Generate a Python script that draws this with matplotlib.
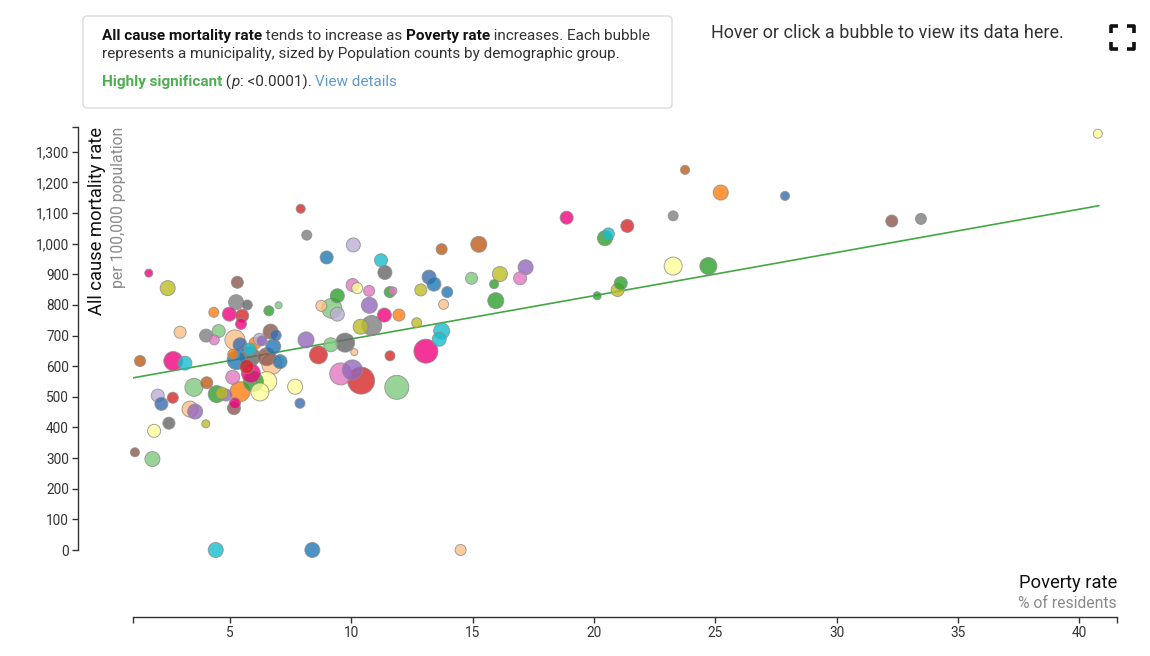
import numpy as np
import matplotlib.pyplot as plt
from matplotlib.patches import FancyBboxPatch
from matplotlib.lines import Line2D
from matplotlib.transforms import IdentityTransform
from matplotlib.ticker import FuncFormatter

plt.rcParams['font.family'] = ['Roboto', 'DejaVu Sans']

W, H, DPI = 1150, 656, 100

# 各市镇：贫困率 (%)、全因死亡率 (每10万人)、人口、颜色组
poverty = [1.65, 2.43, 1.29, 2.66, 3.14, 2.94, 2.02, 2.17, 2.64, 3.51,
           4.04, 4.45, 4.66, 4.83, 3.35, 3.56, 2.48, 1.87, 4.00, 1.08,
           1.80, 4.41, 8.39, 14.50, 7.88, 5.16, 5.20, 5.30, 5.25, 5.71,
           4.33, 4.97, 5.50, 5.45, 6.60, 7.00, 4.01, 4.35, 4.53, 5.20,
           5.41, 6.03, 6.21, 6.32, 6.67, 6.88, 6.78, 5.82, 5.27, 5.11,
           5.82, 6.51, 6.72, 7.06, 5.11, 5.86, 5.69, 6.51, 6.23, 5.96,
           5.41, 7.68, 7.91, 8.16, 10.08, 8.98, 11.22, 11.38, 13.72, 15.25,
           13.20, 13.40, 13.95, 14.95, 13.80, 12.86, 10.05, 10.24, 10.73, 11.58,
           11.71, 9.42, 8.76, 9.19, 9.42, 10.74, 11.36, 11.96, 12.69, 10.38,
           10.84, 13.72, 13.62, 8.13, 9.15, 9.74, 10.12, 8.64, 11.59, 13.07,
           9.56, 10.04, 10.40, 11.87, 18.87, 20.59, 20.45, 21.37, 23.26, 25.22,
           16.12, 17.18, 16.95, 15.88, 15.95, 20.13, 21.10, 20.97, 23.26, 24.71,
           23.75, 27.87, 32.27, 33.47, 40.76]
mortality = [904, 855, 617, 617, 610, 711, 504, 477, 497, 531,
             546, 509, 512, 506, 460, 452, 414, 389, 412, 319,
             297, 0, 0, 0, 479, 463, 479, 874, 809, 800,
             776, 770, 765, 738, 781, 799, 700, 686, 715, 686,
             670, 675, 688, 683, 713, 701, 664, 656, 620, 639,
             631, 631, 606, 615, 564, 577, 599, 550, 516, 550,
             517, 533, 1114, 1028, 996, 955, 946, 906, 982, 998,
             891, 868, 842, 887, 802, 849, 865, 855, 846, 842,
             846, 830, 797, 789, 770, 799, 767, 767, 742, 729,
             733, 715, 688, 686, 670, 677, 646, 637, 634, 649,
             575, 588, 553, 531, 1085, 1032, 1018, 1058, 1091, 1167,
             901, 923, 887, 868, 814, 830, 871, 849, 927, 927,
             1241, 1156, 1074, 1081, 1359]
population = [4800, 16900, 9100, 27100, 14700, 10800, 12700, 12700, 9100, 24300,
              10800, 21700, 10800, 10800, 19200, 16900, 10800, 12700, 4800, 6100,
              16900, 16900, 16900, 9100, 7500, 12700, 9100, 10800, 16900, 7500,
              7500, 14700, 12700, 9100, 7500, 3700, 12700, 7500, 12700, 30000,
              14700, 10800, 10800, 7500, 16900, 9100, 16900, 10800, 27100, 7500,
              30000, 24300, 30000, 14700, 14700, 27100, 14700, 30000, 24300, 30000,
              30000, 16900, 6100, 7500, 14700, 12700, 12700, 14700, 9100, 19200,
              14700, 14700, 9100, 10800, 7500, 10800, 12700, 9100, 9100, 9100,
              4800, 14700, 9100, 30000, 14700, 19200, 14700, 10800, 7500, 16900,
              30000, 19200, 14700, 19200, 14700, 27100, 3700, 24300, 7500, 43200,
              36300, 30000, 54700, 43200, 12700, 10800, 16900, 12700, 7500, 16900,
              16900, 16900, 12700, 6100, 19200, 4800, 12700, 12700, 24300, 21700,
              6100, 6100, 10800, 9100, 6100]
group = ['hotpink', 'olive', 'rust', 'hotpink', 'cyan', 'peach', 'lpurple', 'blue2', 'red', 'lgreen',
         'rust', 'green', 'olive', 'purple', 'peach', 'purple', 'gray2', 'lyellow', 'olive', 'brown',
         'lgreen', 'cyan', 'blue1', 'peach', 'blue2', 'brown', 'hotpink', 'brown', 'gray1', 'gray2',
         'orange', 'hotpink', 'red', 'hotpink', 'green', 'lgreen', 'gray1', 'pink', 'lgreen', 'peach',
         'blue2', 'orange', 'lpurple', 'purple', 'brown', 'blue2', 'blue1', 'cyan', 'blue1', 'orange',
         'gray2', 'brown', 'peach', 'blue1', 'pink', 'hotpink', 'red', 'lyellow', 'lyellow', 'green',
         'orange', 'lyellow', 'red', 'gray1', 'lpurple', 'blue1', 'cyan', 'gray2', 'rust', 'rust',
         'blue2', 'blue1', 'blue1', 'lgreen', 'peach', 'olive', 'pink', 'lyellow', 'pink', 'green',
         'pink', 'green', 'peach', 'lgreen', 'lpurple', 'purple', 'hotpink', 'orange', 'olive', 'olive',
         'gray1', 'cyan', 'cyan', 'purple', 'lgreen', 'gray2', 'peach', 'red', 'red', 'hotpink',
         'pink', 'purple', 'red', 'lgreen', 'hotpink', 'cyan', 'green', 'red', 'gray1', 'orange',
         'olive', 'purple', 'pink', 'green', 'green', 'green', 'green', 'olive', 'lyellow', 'green',
         'rust', 'blue2', 'brown', 'gray1', 'lyellow']

# 趋势线端点
trend_x = [1.0, 40.8]
trend_y = [562, 1124]

palette = {
    'blue1': '#1f77b4', 'blue2': '#386cb0', 'orange': '#ff7f0e', 'green': '#2ca02c',
    'red': '#d62728', 'purple': '#9467bd', 'brown': '#8c564b', 'pink': '#e377c2',
    'gray1': '#7f7f7f', 'gray2': '#666666', 'olive': '#bcbd22', 'cyan': '#17becf',
    'lgreen': '#7fc97f', 'lpurple': '#beaed4', 'peach': '#fdc086', 'lyellow': '#ffff99',
    'hotpink': '#f0027f', 'rust': '#bf5b17',
}

fig = plt.figure(figsize=(W / DPI, H / DPI), dpi=DPI)
ax = fig.add_axes([133 / W, (H - 550) / H, (1117 - 133) / W, (550 - 127) / H])

x = np.array(poverty)
y = np.array(mortality)
pop = np.array(population)
radius = np.sqrt(pop / 300.0)              # 像素半径
sizes = (2 * radius * 72 / DPI) ** 2       # 点^2
order = np.argsort(-pop)                   # 大的先画

ax.scatter(x[order], y[order], s=sizes[order],
           c=[palette[group[i]] for i in order], alpha=0.8,
           edgecolors='#8c8c8c', linewidths=0.7, clip_on=False, zorder=3)

ax.plot(trend_x, trend_y, color='#43a843', lw=1.2, zorder=2)

ax.set_xlim(1.0, 41.55)
ax.set_ylim(0, 1381)

for s in ['top', 'right']:
    ax.spines[s].set_visible(False)
ax.spines['left'].set_position(('outward', 55 * 0.72))
ax.spines['bottom'].set_position(('outward', 67 * 0.72))
for s in ['left', 'bottom']:
    ax.spines[s].set_color('#333333')
    ax.spines[s].set_linewidth(1.0)

ax.set_yticks(np.arange(0, 1301, 100))
ax.set_xticks(np.arange(5, 41, 5))
ax.yaxis.set_major_formatter(FuncFormatter(lambda v, p: f'{int(v):,}'))
ax.set_yticks([1381], minor=True)
ax.set_xticks([1.0, 41.55], minor=True)
ax.tick_params(which='both', direction='out', length=4.3, width=1.0,
               color='#333333', labelsize=9.8, labelcolor='#333333', pad=2.2)
ax.tick_params(which='minor', labelleft=False, labelbottom=False)

# 坐标轴标题
fig.text(97 / W, 1 - 127 / H, 'All cause mortality rate', rotation=90,
         ha='center', va='top', fontsize=13.2, color='#111111')
fig.text(119 / W, 1 - 127 / H, 'per 100,000 population', rotation=90,
         ha='center', va='top', fontsize=11.3, color='#8a8a8a')
fig.text(1117 / W, 1 - 583 / H, 'Poverty rate', ha='right', va='center',
         fontsize=13.2, color='#111111')
fig.text(1117 / W, 1 - 603 / H, '% of residents', ha='right', va='center',
         fontsize=11.3, color='#8a8a8a')

# 说明框
box = FancyBboxPatch((83, H - 108), 589, 92,
                     boxstyle='round,pad=0,rounding_size=4',
                     transform=IdentityTransform(), facecolor='white',
                     edgecolor='#dcdcdc', linewidth=1.0)
fig.add_artist(box)

renderer = fig.canvas.get_renderer()


def text_width(s, **kw):
    a = fig.text(0, 0, 'a' + s + 'a', **kw)
    b = fig.text(0, 0, 'aa', **kw)
    w = a.get_window_extent(renderer).width - b.get_window_extent(renderer).width
    a.remove()
    b.remove()
    return w


def rich_line(px, py, pieces, size=10.95):
    for s, kw in pieces:
        props = dict(fontsize=size, color='#333333', va='center', ha='left')
        props.update(kw)
        fig.text(px / W, 1 - py / H, s, **props)
        px += text_width(s, **props)


bold = dict(fontweight='bold', color='#111111')
rich_line(102, 36, [('All cause mortality rate', bold),
                    (' tends to increase as ', {}),
                    ('Poverty rate', bold),
                    (' increases. Each bubble', {})])
rich_line(102, 54, [('represents a municipality, sized by Population counts by demographic group.', {})])
rich_line(102, 82, [('Highly significant', dict(fontweight='bold', color='#4caf50')),
                    (' (', {}),
                    ('p', dict(fontstyle='italic')),
                    (': <0.0001). ', {}),
                    ('View details', dict(color='#5b9bd5'))])

fig.text(711 / W, 1 - 33 / H, 'Hover or click a bubble to view its data here.',
         ha='left', va='center', fontsize=13, color='#333333')

# 全屏图标
corners = [
    [(1111, 33), (1111, 26), (1118, 26)],
    [(1127, 26), (1134, 26), (1134, 33)],
    [(1111, 42), (1111, 49), (1118, 49)],
    [(1127, 49), (1134, 49), (1134, 42)],
]
for pts in corners:
    xs = [p[0] for p in pts]
    ys = [H - p[1] for p in pts]
    fig.add_artist(Line2D(xs, ys, transform=IdentityTransform(), color='#111111',
                          lw=2.6, solid_joinstyle='round', solid_capstyle='butt'))

fig.savefig('out.png', dpi=DPI)
